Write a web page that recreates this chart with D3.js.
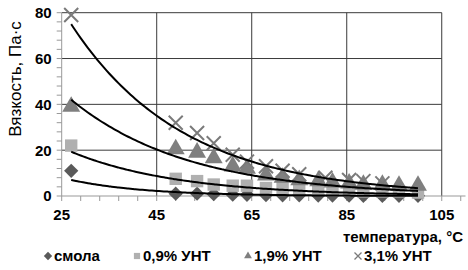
<!DOCTYPE html>
<html><head><meta charset="utf-8">
<script src="https://cdn.jsdelivr.net/npm/d3@7"></script>
<style>body{margin:0;background:#fff}svg{display:block}</style>
</head><body><svg id="c" width="468" height="270"></svg>
<script>
const seriesNames = ["смола", "0,9% УНТ", "1,9% УНТ", "3,1% УНТ"];
const tempsResin = [27, 49, 53.5, 57, 61, 64, 68, 71.5, 75, 79, 82, 85.5, 88.5, 92.5, 96, 100];
const valuesResin = [11, 1, 1, 0.8, 0.6, 0.5, 0.4, 0.3, 0.3, 0.2, 0.2, 0.2, 0.1, 0.1, 0.1, 0.1];
const temps09 = [27, 49, 53.5, 57, 61, 64, 68, 71.5, 75, 79, 82, 85.5, 88.5, 92.5, 96, 100];
const values09 = [22, 7.5, 6.5, 5, 4.5, 4.5, 3.5, 3.5, 3, 3, 2.5, 2.5, 2, 2, 2, 1.5];
const temps19 = [27, 49, 53.5, 57, 61, 64, 68, 71.5, 75, 79, 82, 85.5, 88.5, 92.5, 96, 100];
const values19 = [39, 20.5, 19, 16.5, 13, 12, 9, 8, 7, 6.5, 6, 5.5, 5, 5, 4.5, 4.5];
const temps31 = [27, 49, 53.5, 57, 61, 64, 68, 71.5, 75, 80.5, 85.5, 88.5, 92.5];
const values31 = [79, 32, 27.5, 23, 18, 15, 13, 11, 9.5, 8, 7, 6.5, 5.5];
// exponential trend lines y = a*exp(-b*(T-27))
const trendA = [7, 19.3, 42, 75];
const trendB = [0.064, 0.0443, 0.0404, 0.0423];
const trendRange = [27, 100];
const xTicks = [25, 45, 65, 85, 105];
const yTicks = [0, 20, 40, 60, 80];
const xLabel = "температура, °С";
const yLabel = "Вязкость, Па·с";

const svg = d3.select("#c");
const x = d3.scaleLinear().domain([25, 110]).range([61.7, 465.5]);
const y = d3.scaleLinear().domain([0, 80]).range([196, 12.7]);
const x0 = x(25), x1 = x(105);
const font = "Liberation Sans, Arial, sans-serif";

// gridlines
const g = svg.append("g");
g.selectAll("line.h").data(yTicks.filter(d => d > 0)).join("line")
  .attr("x1", x0).attr("x2", x1).attr("y1", d => y(d)).attr("y2", d => y(d))
  .attr("stroke", "#3a3a3a").attr("stroke-width", 1);
g.selectAll("line.v").data(xTicks.filter(d => d > 25)).join("line")
  .attr("x1", d => x(d)).attr("x2", d => x(d)).attr("y1", y(80)).attr("y2", y(0))
  .attr("stroke", "#3a3a3a").attr("stroke-width", 1);

// axes
const minorX = d3.range(25, 110, 4);
const minorY = d3.range(0, 81, 4);
svg.append("line").attr("x1", x0).attr("x2", x(110)).attr("y1", y(0)).attr("y2", y(0)).attr("stroke", "#999");
svg.append("line").attr("x1", x0).attr("x2", x0).attr("y1", y(0)).attr("y2", y(80)).attr("stroke", "#999");
svg.selectAll("line.mx").data(minorX).join("line")
  .attr("x1", d => x(d)).attr("x2", d => x(d)).attr("y1", y(0)).attr("y2", y(0) + 5).attr("stroke", "#999");
svg.selectAll("line.my").data(minorY).join("line")
  .attr("x1", x0 - 5).attr("x2", x0).attr("y1", d => y(d)).attr("y2", d => y(d)).attr("stroke", "#999");

svg.selectAll("text.yt").data(yTicks).join("text")
  .attr("x", x0 - 10).attr("y", d => y(d)).attr("dy", "0.36em").attr("text-anchor", "end")
  .attr("font-family", font).attr("font-weight", "bold").attr("font-size", 15).attr("fill", "#000")
  .text(d => d);
svg.selectAll("text.xt").data(xTicks).join("text")
  .attr("x", d => x(d)).attr("y", 220).attr("text-anchor", "middle")
  .attr("font-family", font).attr("font-weight", "bold").attr("font-size", 15).attr("fill", "#000")
  .text(d => d);

svg.append("text").attr("transform", `translate(21,79) rotate(-90)`)
  .attr("text-anchor", "middle").attr("font-family", font).attr("font-size", 17).attr("fill", "#000")
  .text(yLabel);
svg.append("text").attr("x", 463).attr("y", 242).attr("text-anchor", "end")
  .attr("font-family", font).attr("font-weight", "bold").attr("font-size", 15).attr("fill", "#000")
  .text(xLabel);

// markers
const colors = ["#5a5a5a", "#b0b0b0", "#7f7f7f", "#7a7a7a"];
function marker(sel, kind, size) {
  if (kind === 3) {
    const s = size / 2;
    sel.append("path").attr("d", `M${-s},${-s}L${s},${s}M${-s},${s}L${s},${-s}`)
      .attr("stroke", colors[3]).attr("stroke-width", size > 10 ? 2 : 1.3).attr("fill", "none");
  } else {
    const sym = [d3.symbolDiamond2, d3.symbolSquare2, d3.symbolTriangle2][kind];
    const area = kind === 0 ? size * size * 0.9 : kind === 1 ? size * size : size * size * 0.9;
    sel.append("path").attr("d", d3.symbol(sym, area)()).attr("fill", colors[kind]);
  }
}
const sets = [[tempsResin, valuesResin], [temps09, values09], [temps19, values19], [temps31, values31]];
const sizes = [12, 14, 16, 14];
sets.forEach(([ts, vs], k) => {
  const pts = ts.map((t, i) => ({t, v: vs[i]}));
  svg.append("g").selectAll("g").data(pts).join("g")
    .attr("transform", d => `translate(${x(d.t)},${y(d.v)})`)
    .each(function () { marker(d3.select(this), k, sizes[k]); });
});

// trend lines
const line = d3.line().x(d => x(d[0])).y(d => y(d[1])).curve(d3.curveBasis);
trendA.forEach((a, k) => {
  const pts = d3.range(trendRange[0], trendRange[1] + 0.01, 0.5).map(t => [t, a * Math.exp(-trendB[k] * (t - 27))]);
  svg.append("path").attr("d", line(pts)).attr("fill", "none").attr("stroke", "#000").attr("stroke-width", 2);
});

// legend
const legX = [48, 137, 248, 358];
const legY = 256;
seriesNames.forEach((name, k) => {
  const lg = svg.append("g").attr("transform", `translate(${legX[k]},${legY})`);
  marker(lg, k, 7);
  lg.append("text").attr("x", 6).attr("dy", "0.36em").attr("font-family", font).attr("font-weight", "bold")
    .attr("font-size", 15).attr("fill", "#000").text(name);
});
</script></body></html>
